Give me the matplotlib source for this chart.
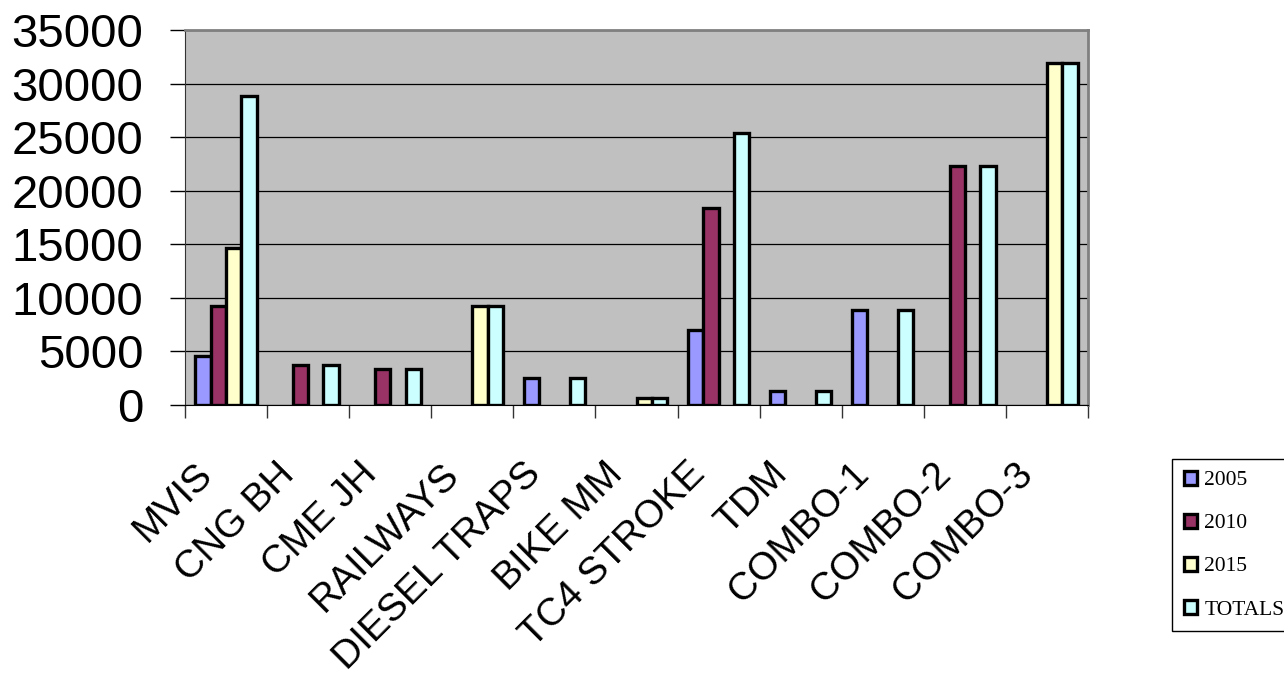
import matplotlib
matplotlib.use('Agg')
import matplotlib.pyplot as plt
import numpy as np
from matplotlib.transforms import ScaledTranslation

# data
categories = ['MVIS', 'CNG BH', 'CME JH', 'RAILWAYS', 'DIESEL TRAPS', 'BIKE MM',
              'TC4 STROKE', 'TDM', 'COMBO-1', 'COMBO-2', 'COMBO-3']
series_names = ['2005', '2010', '2015', 'TOTALS']
v2005 = [4600, 0, 0, 0, 2500, 0, 7000, 1300, 8900, 0, 0]
v2010 = [9200, 3700, 3400, 0, 0, 0, 18400, 0, 0, 22300, 0]
v2015 = [14700, 0, 0, 9200, 0, 650, 0, 0, 0, 0, 31900]
totals = [28800, 3700, 3400, 9200, 2500, 650, 25400, 1300, 8900, 22300, 31900]
y_ticks = [0, 5000, 10000, 15000, 20000, 25000, 30000, 35000]

colors = ['#9999FF', '#993366', '#FFFFCC', '#CCFFFF']

fig = plt.figure(figsize=(12.84, 6.88), dpi=100)
ax = fig.add_axes([185 / 1284, (688 - 405) / 688, (1088 - 185) / 1284, 375 / 688])
ax.set_facecolor('#C0C0C0')

x = np.arange(len(categories)) + 0.5
w = 0.187
for k, (name, vals) in enumerate(zip(series_names, [v2005, v2010, v2015, totals])):
    vals = np.array(vals, dtype=float)
    mask = vals > 0
    ax.bar(x[mask] + (k - 1.5) * w, vals[mask], width=w, color=colors[k],
           edgecolor='black', linewidth=2.4, label=name, zorder=3)

ax.set_xlim(0, len(categories))
ax.set_ylim(0, 35000)

# gridlines
ax.set_axisbelow(True)
ax.yaxis.grid(True, color='black', linewidth=0.9)

# spines
for s in ['top', 'right']:
    ax.spines[s].set_color('#808080')
    ax.spines[s].set_linewidth(2)
ax.spines['left'].set_color('#333333')
ax.spines['bottom'].set_color('black')

# y axis
ax.set_yticks(y_ticks)
ax.set_yticklabels([str(t) for t in y_ticks], fontsize=34, family='Liberation Sans')
ax.tick_params(axis='y', direction='out', length=11, width=1, pad=19, colors='black')

# x axis: ticks at category boundaries, labels placed by hand
ax.set_xticks(np.arange(len(categories) + 1))
ax.set_xticklabels([])
ax.tick_params(axis='x', direction='out', length=9, width=1, color='#333333')

offset = ScaledTranslation(-32 / 100, -51 / 100, fig.dpi_scale_trans)
for i, c in enumerate(categories):
    ax.text(x[i], 0, c, transform=ax.get_xaxis_transform() + offset,
            rotation=45, ha='right', va='top', rotation_mode='anchor',
            fontsize=28, family='Liberation Sans')

leg = fig.legend(loc='upper left', bbox_to_anchor=(1172 / 1284, 1 - 459 / 688),
                 prop={'family': 'Liberation Serif', 'size': 15.5},
                 handlelength=0.6, handleheight=0.6, handletextpad=0.35,
                 labelspacing=1.1, borderpad=0.55, borderaxespad=0,
                 fancybox=False, framealpha=1, edgecolor='black')
leg.get_frame().set_linewidth(1)

plt.savefig('out.png', dpi=100)
plt.close()
